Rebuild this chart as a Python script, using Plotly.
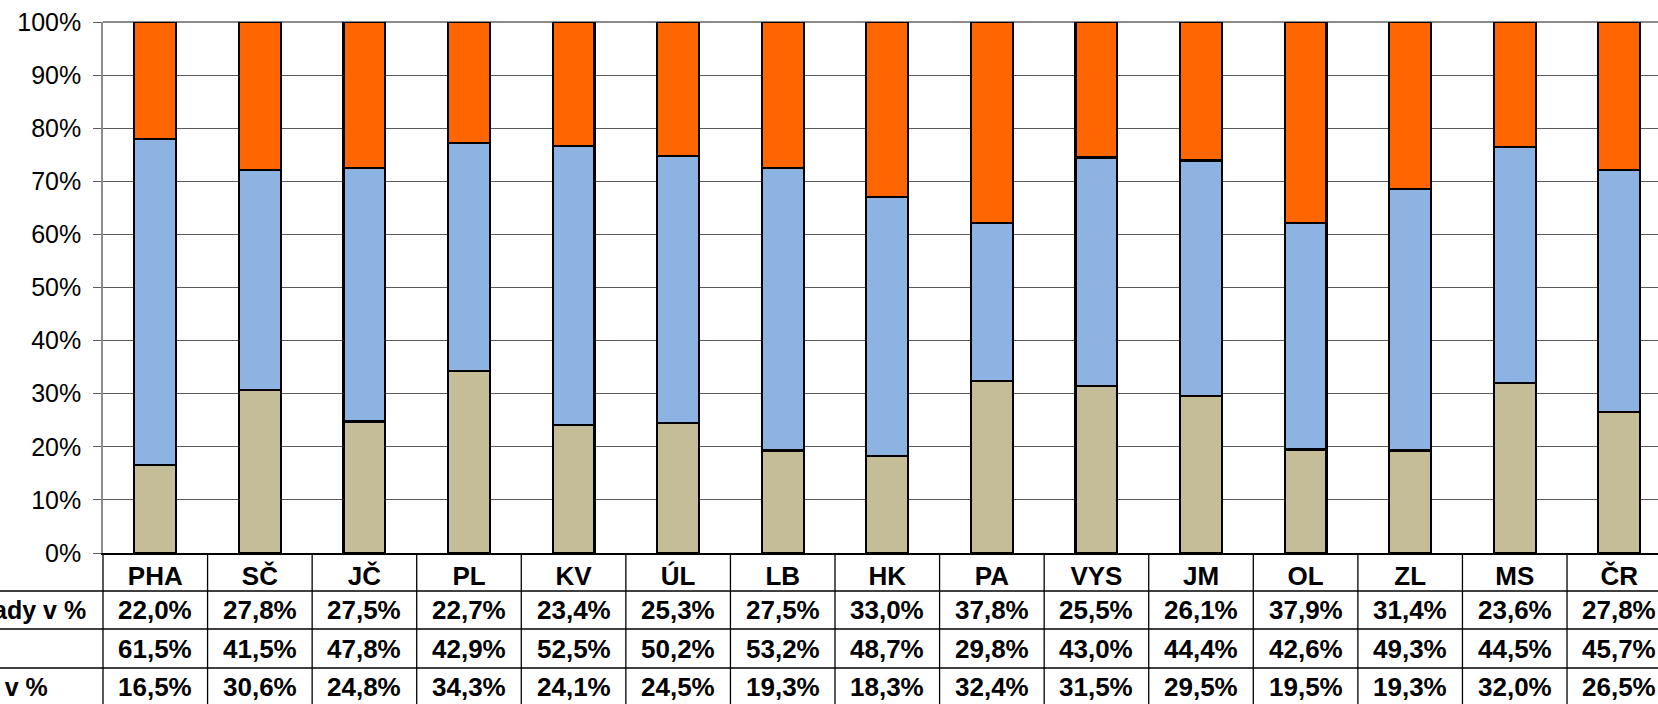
import plotly.graph_objects as go

# Regions (kraje) plus the national total
regions = ["PHA", "SČ", "JČ", "PL", "KV", "ÚL", "LB", "HK", "PA", "VYS", "JM", "OL", "ZL", "MS", "ČR"]

# Shares in %, one list per component (top row of the table first)
share_top = [22.0, 27.8, 27.5, 22.7, 23.4, 25.3, 27.5, 33.0, 37.8, 25.5, 26.1, 37.9, 31.4, 23.6, 27.8]
share_mid = [61.5, 41.5, 47.8, 42.9, 52.5, 50.2, 53.2, 48.7, 29.8, 43.0, 44.4, 42.6, 49.3, 44.5, 45.7]
share_bot = [16.5, 30.6, 24.8, 34.3, 24.1, 24.5, 19.3, 18.3, 32.4, 31.5, 29.5, 19.5, 19.3, 32.0, 26.5]

row_labels = ["Ostatní náklady v %", "", "Odpisy v %"]

W, H = 1658, 704
ML, MT, MB = 103, 22, 151
PLOT_H = H - MT - MB
FONT = "Arial, 'Liberation Sans', sans-serif"
TABLE_SIZE = 26
LABEL_SIZE = 25

C_TOP, C_MID, C_BOT = "#FF6600", "#8DB3E2", "#C4BD97"


def py(pix):
    """Pixel row (from the top of the page) -> paper y coordinate."""
    return (H - MB - pix) / PLOT_H


def px(pix):
    """Pixel column -> paper x coordinate."""
    return (pix - ML) / (W - ML)


fig = go.Figure()
for name, vals, col in [("bot", share_bot, C_BOT), ("mid", share_mid, C_MID), ("top", share_top, C_TOP)]:
    fig.add_trace(go.Bar(
        x=regions, y=vals, name=name, marker=dict(color=col, line=dict(color="#000000", width=2.2)),
        hoverinfo="skip",
    ))

shapes = []
annotations = []

# plot-area top border
shapes.append(dict(type="line", xref="paper", yref="paper", x0=0, x1=1, y0=1, y1=1,
                   line=dict(color="#8c8c8c", width=2), layer="below"))

# data table grid
row_edges = [553, 591, 629, 668]
for r in row_edges[1:]:
    shapes.append(dict(type="line", xref="paper", yref="paper", x0=px(0), x1=1, y0=py(r), y1=py(r),
                       line=dict(color="#000000", width=1.3)))
shapes.append(dict(type="line", xref="paper", yref="paper", x0=0, x1=0, y0=0, y1=py(H + 2),
                   line=dict(color="#000000", width=1.3)))
for i in range(1, len(regions) + 1):
    shapes.append(dict(type="line", xref="x", yref="paper", x0=i - 0.5, x1=i - 0.5, y0=0, y1=py(H + 2),
                       line=dict(color="#000000", width=1.3)))

# table rows: values
row_centres = [610, 648.5, 686.5]
for vals, yc in zip([share_top, share_mid, share_bot], row_centres):
    for reg, v in zip(regions, vals):
        annotations.append(dict(xref="x", yref="paper", x=reg, y=py(yc), yanchor="middle",
                                text="<b>" + f"{v:.1f}%".replace(".", ",") + "</b>", showarrow=False,
                                font=dict(family=FONT, size=TABLE_SIZE, color="#000000")))

# table row headers
for lab, yc, xr in zip(row_labels, row_centres, [88, 0, 50]):
    if lab:
        annotations.append(dict(xref="paper", yref="paper", x=px(xr), y=py(yc), xanchor="right",
                                yanchor="middle", text="<b>" + lab + "</b>", showarrow=False,
                                font=dict(family=FONT, size=LABEL_SIZE, color="#000000")))

fig.update_layout(
    width=W, height=H,
    margin=dict(l=ML, r=0, t=MT, b=MB, autoexpand=False),
    paper_bgcolor="#ffffff", plot_bgcolor="#ffffff",
    barmode="stack", barnorm="percent", bargap=0.6,
    showlegend=False,
    font=dict(family=FONT, color="#000000"),
    shapes=shapes, annotations=annotations,
    xaxis=dict(
        type="category", range=[-0.5, 14.37], showgrid=False, zeroline=False,
        tickvals=regions, ticktext=["<b>" + r + "</b>" for r in regions],
        tickfont=dict(family=FONT, size=TABLE_SIZE, color="#000000"), ticks="",
        showline=True, linecolor="#000000", linewidth=1.5, ticklabelstandoff=-1,
        automargin=False,
    ),
    yaxis=dict(
        range=[0, 100], dtick=10, ticksuffix="%", showgrid=True, gridcolor="#5a5a5a", gridwidth=1,
        zeroline=False, ticks="outside", ticklen=8, tickcolor="#5a5a5a",
        tickfont=dict(family=FONT, size=25, color="#000000"),
        showline=True, linecolor="#8c8c8c", linewidth=1.5, ticklabelstandoff=7,
        automargin=False,
    ),
)

fig.write_html("out.html")
